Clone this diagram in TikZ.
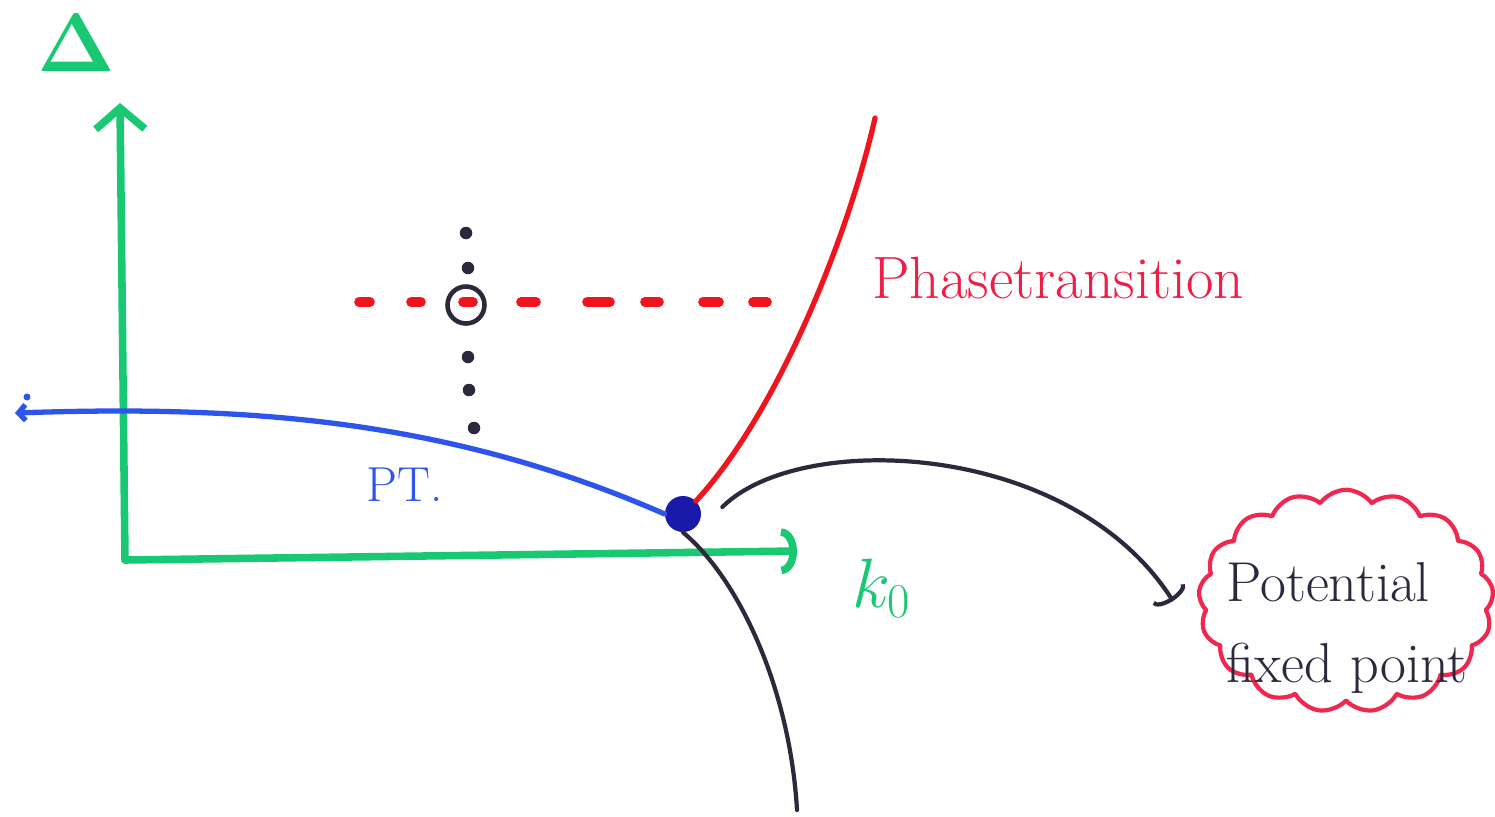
\documentclass[tikz,border=0pt]{standalone}
\usetikzlibrary{arrows.meta,shapes.symbols}
\definecolor{mgreen}{RGB}{25,200,115}
\definecolor{mblue}{RGB}{45,85,235}
\definecolor{fpblue}{RGB}{25,25,170}
\definecolor{mred}{RGB}{240,20,30}
\definecolor{lred}{RGB}{240,30,70}
\definecolor{cred}{RGB}{240,40,80}
\definecolor{mblack}{RGB}{45,40,60}
\begin{document}
\begin{tikzpicture}[x=0.02cm,y=-0.02cm,line cap=round,line join=round,
  axisline/.style={draw=mgreen,line width=4.3pt},
  blueline/.style={draw=mblue,line width=3pt},
  redline/.style={draw=mred,line width=3pt},
  blackline/.style={draw=mblack,line width=2.4pt},
  reddash/.style={draw=mred,line width=5.5pt},
  blackdot/.style={circle,fill=mblack,inner sep=0pt,minimum size=0.25cm},
  lbl/.style={inner sep=0pt,anchor=base west}]
\fill[white] (0,0) rectangle (1495,816);
\useasboundingbox (0,0) rectangle (1495,816);

% axes
\coordinate (O) at (125,560);
\coordinate (ytip) at (120,103);
\coordinate (xtip) at (797,551);
\draw[axisline,-{Straight Barb[length=12pt,width=28pt,line width=4.3pt]}] (O) -- (ytip);
\draw[axisline,-{Arc Barb[length=9pt,width=26pt,line width=4.3pt]}] (O) -- (xtip);
\node[text=mgreen,inner sep=0pt,font=\fontsize{24}{24}\selectfont] (delta) at (76,43) {\scalebox{1.9}{$\mathbf{\Delta}$}};
\node[lbl,text=mgreen,font=\fontsize{24}{24}\selectfont] (k0) at (852,607) {\scalebox{1.6}{$k_0$}};

% fixed point
\node[circle,fill=fpblue,minimum size=0.72cm,inner sep=0pt] (fp) at (683,514) {};

% blue phase transition line
\coordinate (bl) at (15,413);
\draw[blueline,{Straight Barb[length=4pt,width=9pt,line width=3pt]}-] (bl) .. controls (250,405) and (450,420) .. (fp.west);
\fill[mblue] (27,397) circle (0.07cm);
\node[lbl,text=mblue,font=\fontsize{28}{28}\selectfont] (pt) at (366,501) {PT.};

% red phase transition line
\coordinate (rtop) at (875,118);
\draw[redline] (fp.north east) .. controls (780,410) and (850,230) .. (rtop);
\node[lbl,text=lred,font=\fontsize{34}{34}\selectfont] (ph) at (872,298) {Phasetransition};

% black line down
\coordinate (bbot) at (797,810);
\draw[blackline] (fp.south) .. controls (740,580) and (790,690) .. (bbot);

% dotted cross
\foreach \xa/\xb in {359/370,411/421,521/536,587/610,645/659,703/719,753/767}
  \draw[reddash] (\xa,302) -- (\xb,302);
\draw[reddash] (463,302) -- (473,302);
\foreach \px/\py in {466/233,468/268,468/357,469/390,474/428}
  \node[blackdot] at (\px,\py) {};
\node[circle,draw=mblack,line width=2.6pt,minimum size=0.74cm,inner sep=0pt] (pm) at (466,305) {};

% cloud
\node[cloud,draw=cred,line width=2.4pt,cloud puffs=17,cloud puff arc=110,
  cloud ignores aspect,minimum width=5.9cm,minimum height=4.45cm,inner sep=0pt] (cl) at (1346,601) {};
\node[text=mblack,align=left,inner sep=0pt,font=\fontsize{32}{46}\selectfont] (cltext) at (1347,628) {Potential\\fixed point};

% arrow to cloud
\draw[blackline,-{Arc Barb[length=5pt,width=22pt,line width=2.4pt]}]
  ([shift={(21,-7)}]fp.east) .. controls (800,430) and (1070,440) .. ([xshift=-0.5cm]cl.west);
\end{tikzpicture}
\end{document}
